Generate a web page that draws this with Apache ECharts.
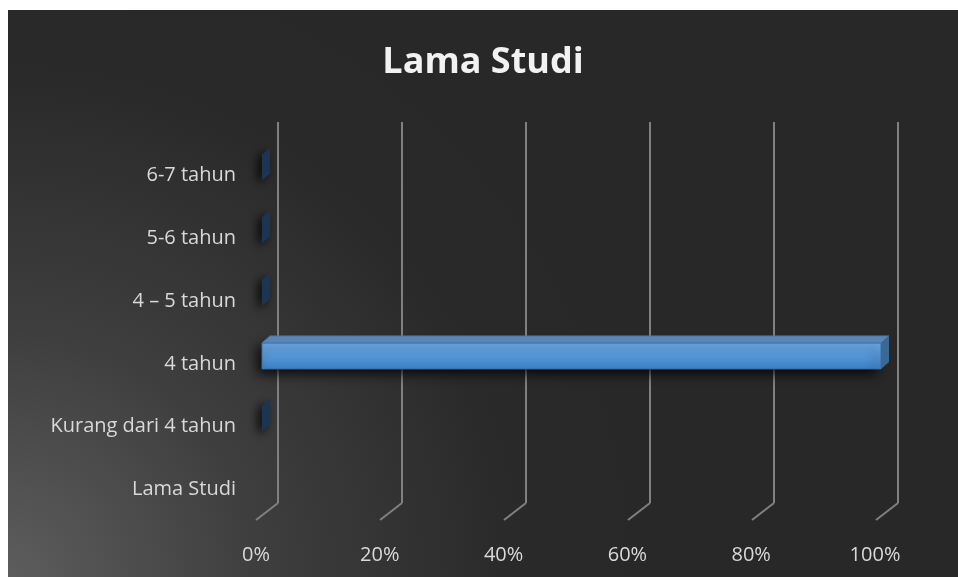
<!DOCTYPE html>
<html lang="en">
<head>
<meta charset="utf-8" />
<title>Lama Studi</title>
<script src="https://cdn.jsdelivr.net/npm/echarts@6/dist/echarts.min.js"></script>
<style>
  html, body { margin: 0; padding: 0; background: #fff; }
  #chart { position: absolute; left: 8px; top: 10px; width: 950px; height: 567px; }
</style>
</head>
<body>
<div id="chart"></div>
<script>
// kategori dari bawah ke atas
var categories = ['Lama Studi', 'Kurang dari 4 tahun', '4 tahun', '4 \u2013 5 tahun', '5-6 tahun', '6-7 tahun'];
var values = [null, 0, 100, 0, 0, 0];   // persen
var ticks = [0, 20, 40, 60, 80, 100];

var chart = echarts.init(document.getElementById('chart'));

var labelFont = { color: '#d9d9d9', fontFamily: 'Open Sans', fontSize: 20 };

// bar 3d: muka depan + atas + samping
function renderBar(params, api) {
  var v = api.value(0);
  var c = api.value(1);
  var p0 = api.coord([0, c]);
  var p1 = api.coord([v, c]);
  var x0 = p0[0] + 6, x1 = p1[0] + 6;
  var top = p0[1] - 21, bot = p0[1] + 5;
  var dx = 8, dy = 7;
  if (v === 0) {
    return {
      type: 'polygon',
      shape: { points: [[x0, top], [x0 + dx, top - dy], [x0 + dx, bot - dy], [x0, bot]] },
      style: { fill: '#1c3552', shadowBlur: 10, shadowColor: 'rgba(0,0,0,0.9)', shadowOffsetX: -4, shadowOffsetY: 3 }
    };
  }
  return {
    type: 'group',
    children: [
      {
        type: 'rect',
        shape: { x: x0, y: top, width: x1 - x0, height: bot - top },
        style: {
          fill: new echarts.graphic.LinearGradient(0, 0, 0, 1, [
            { offset: 0, color: '#6eabe6' },
            { offset: 1, color: '#3d83cb' }
          ]),
          stroke: '#3a6ea6', lineWidth: 1,
          shadowBlur: 12, shadowColor: 'rgba(0,0,0,0.85)', shadowOffsetX: -4, shadowOffsetY: 4
        }
      },
      {
        type: 'polygon',
        shape: { points: [[x0, top], [x0 + dx, top - dy], [x1 + dx, top - dy], [x1, top]] },
        style: { fill: '#5a86b6', stroke: '#4a74a2', lineWidth: 1 }
      },
      {
        type: 'polygon',
        shape: { points: [[x1, top], [x1 + dx, top - dy], [x1 + dx, bot - dy], [x1, bot]] },
        style: { fill: '#3a6996' }
      }
    ]
  };
}

// garis lantai miring dari bidang belakang ke depan
function renderFloor(params, api) {
  var p = api.coord([api.value(0), 0]);
  return {
    type: 'line',
    shape: { x1: p[0], y1: p[1], x2: p[0] - 22, y2: p[1] + 17 },
    style: { stroke: '#808080', lineWidth: 2 }
  };
}

var barData = [];
values.forEach(function (v, i) {
  if (v !== null) barData.push([v, i]);
});

var option = {
  animation: false,
  graphic: [{
    type: 'rect', left: 0, top: 0, z: -100, silent: true,
    shape: { width: 950, height: 567 },
    style: {
      fill: new echarts.graphic.RadialGradient(0, 1, 1.1, [
        { offset: 0, color: '#5d5d5d' },
        { offset: 0.4, color: '#3e3e3e' },
        { offset: 0.8, color: '#2a2a2a' },
        { offset: 1, color: '#282828' }
      ])
    }
  }],
  title: {
    text: 'Lama Studi',
    left: 'center',
    top: 30,
    textStyle: { color: '#f2f2f2', fontFamily: 'Open Sans', fontWeight: 'bold', fontSize: 36 }
  },
  grid: [
    { left: 248, width: 619, top: 134, height: 377 },   // bidang depan (bar, label)
    { left: 270, width: 620, top: 112, height: 381 }    // bidang belakang (gridline)
  ],
  xAxis: [
    {
      gridIndex: 0, type: 'value', min: 0, max: 100, interval: 20,
      axisLine: { show: false }, axisTick: { show: false }, splitLine: { show: false },
      axisLabel: Object.assign({ formatter: '{value}%', margin: 24 }, labelFont)
    },
    {
      gridIndex: 1, type: 'value', min: 0, max: 100, interval: 20,
      axisLine: { show: false }, axisTick: { show: false }, axisLabel: { show: false },
      splitLine: { show: true, lineStyle: { color: '#808080', width: 2 } }
    }
  ],
  yAxis: [
    {
      gridIndex: 0, type: 'category', data: categories,
      axisLine: { show: false }, axisTick: { show: false }, splitLine: { show: false },
      axisLabel: Object.assign({ margin: 20 }, labelFont)
    },
    {
      gridIndex: 1, type: 'value', min: 0, max: 1, show: false
    }
  ],
  series: [
    {
      type: 'custom', xAxisIndex: 1, yAxisIndex: 1, clip: false, silent: true,
      data: ticks, renderItem: renderFloor, encode: { x: 0 }
    },
    {
      type: 'custom', xAxisIndex: 0, yAxisIndex: 0, clip: false, silent: true,
      data: barData, renderItem: renderBar, encode: { x: 0, y: 1 }, z: 5
    }
  ]
};

chart.setOption(option);
</script>
</body>
</html>
